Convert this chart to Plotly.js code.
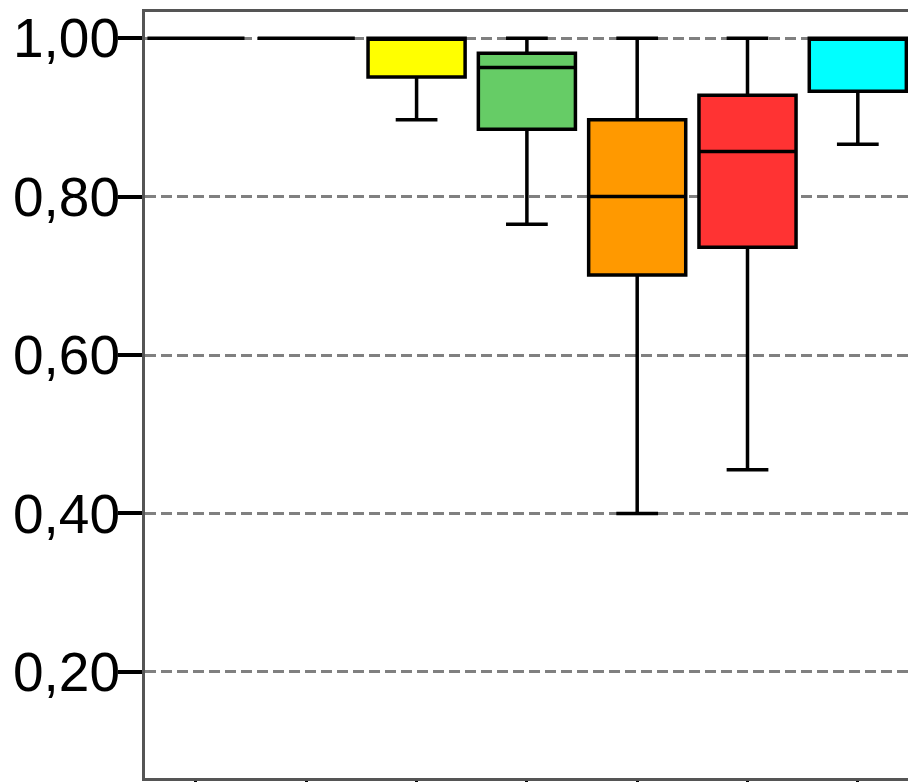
<!DOCTYPE html>
<html>
<head>
<meta charset="utf-8">
<script src="https://cdn.plot.ly/plotly-3.0.1.min.js"></script>
<style>html,body{margin:0;padding:0;background:#fff;overflow:hidden}</style>
</head>
<body>
<div id="chart"></div>
<script>
// categories (positions on the x axis; no labels shown)
const categories = [0, 1, 2, 3, 4, 5, 6];
const colors = ['#FFFFFF', '#FFFFFF', '#FFFF00', '#66CC66', '#FF9900', '#FF3333', '#00FFFF'];
const lowerFence = [1.00, 1.00, 0.897, 0.765, 0.40, 0.455, 0.866];
const q1Values   = [1.00, 1.00, 0.951, 0.885, 0.701, 0.736, 0.933];
const medians    = [1.00, 1.00, 1.00, 0.963, 0.80, 0.857, 1.00];
const q3Values   = [1.00, 1.00, 1.00, 0.981, 0.897, 0.928, 1.00];
const upperFence = [1.00, 1.00, 1.00, 1.00, 1.00, 1.00, 1.00];
const yTickVals  = [0.2, 0.4, 0.6, 0.8, 1.0];
const yTickText  = ['0,20', '0,40', '0,60', '0,80', '1,00'];

const traces = categories.map((c, i) => ({
  type: 'box',
  x: [c],
  q1: [q1Values[i]],
  median: [medians[i]],
  q3: [q3Values[i]],
  lowerfence: [lowerFence[i]],
  upperfence: [upperFence[i]],
  width: 0.88,
  whiskerwidth: 0.43,
  fillcolor: colors[i],
  line: {color: '#000000', width: 3.5},
  boxpoints: false,
  hoverinfo: 'skip',
  showlegend: false
}));

const layout = {
  width: 908,
  height: 782,
  autosize: false,
  margin: {l: 145, r: 0, t: 12, b: 4, pad: 0},
  paper_bgcolor: '#ffffff',
  plot_bgcolor: '#ffffff',
  font: {family: 'Liberation Sans, Arial, sans-serif', color: '#000000'},
  showlegend: false,
  xaxis: {
    range: [-0.462, 6.455],
    tickvals: categories,
    showticklabels: false,
    ticks: 'outside',
    ticklen: 5,
    tickwidth: 3,
    tickcolor: '#000000',
    showgrid: false,
    zeroline: false,
    showline: true,
    linecolor: '#555555',
    linewidth: 3,
    mirror: true
  },
  yaxis: {
    range: [0.066, 1.033],
    tickvals: yTickVals,
    ticktext: yTickText,
    ticks: 'outside',
    ticklen: 24,
    tickwidth: 4,
    tickcolor: '#000000',
    ticklabelstandoff: -13,
    tickfont: {size: 55, family: 'Liberation Sans, Arial, sans-serif', color: '#000000'},
    showgrid: true,
    gridcolor: '#808080',
    gridwidth: 3,
    griddash: '11px,5px',
    zeroline: false,
    showline: true,
    linecolor: '#555555',
    linewidth: 3,
    mirror: false
  }
};

Plotly.newPlot('chart', traces, layout, {displayModeBar: false, staticPlot: true});
</script>
</body>
</html>
